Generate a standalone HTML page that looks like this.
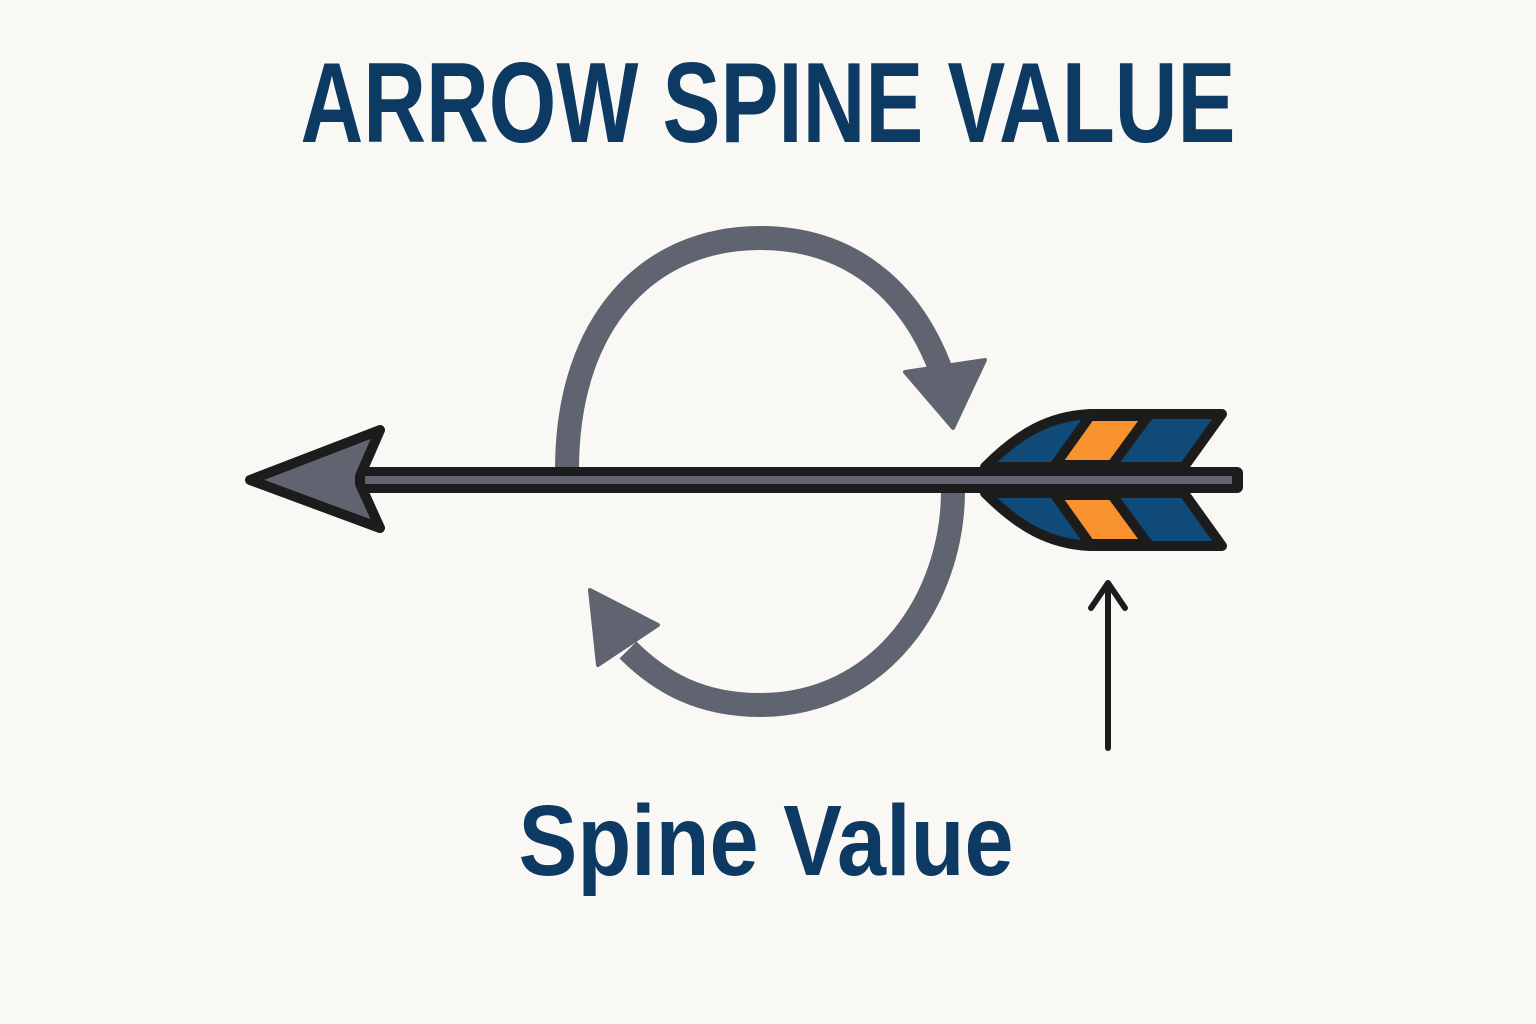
<!DOCTYPE html>
<html><head><meta charset="utf-8"><style>html,body{margin:0;padding:0;background:#faf8f4}svg{display:block}</style></head>
<body>
<svg width="1536" height="1024" viewBox="0 0 1536 1024" xmlns="http://www.w3.org/2000/svg">
<rect width="1536" height="1024" fill="#faf8f4"/>
<text x="768" y="142" text-anchor="middle" font-family="Liberation Sans, sans-serif" font-weight="bold" font-size="114" fill="#0d3a62" textLength="935" lengthAdjust="spacingAndGlyphs">ARROW SPINE VALUE</text>
<text x="766" y="875" text-anchor="middle" font-family="Liberation Sans, sans-serif" font-weight="bold" font-size="100" fill="#0d3a62" textLength="495" lengthAdjust="spacingAndGlyphs">Spine Value</text>
<!-- loop -->
<g fill="none" stroke="#5f6470" stroke-width="24">
<path d="M567,470 C567,320 650,238 760,238 C850,238 910,290 940,368"/>
<path d="M953,490 C953,600 880,705 760,705 C700,705 660,682 628,650"/>
</g>
<polygon points="905,372 985,360 953,428" fill="#5f6470" stroke="#5f6470" stroke-width="4" stroke-linejoin="round"/>
<polygon points="590,590 658,625 598,665" fill="#5f6470" stroke="#5f6470" stroke-width="4" stroke-linejoin="round"/>
<!-- shaft -->
<rect x="350" y="467" width="893" height="26" rx="6" fill="#1c1c1c"/>
<rect x="350" y="476" width="882" height="8" fill="#5f6470"/>
<!-- head -->
<polygon points="250,480 380,430 360,476 360,484 380,528" fill="#5f6470" stroke="#1c1c1c" stroke-width="10" stroke-linejoin="round"/>
<!-- fletching -->
<g stroke="#1c1c1c" stroke-width="10" stroke-linejoin="round">
<path d="M985,467 C1020,432 1050,416 1090,414 L1222,414 L1184,467 Z" fill="#0f4a78"/>
<path d="M985,493 C1020,528 1050,544 1090,546 L1222,546 L1184,493 Z" fill="#0f4a78"/>
<polygon points="1090,416 1148,416 1112,465 1055,465" fill="#f7922f"/>
<polygon points="1055,495 1112,495 1148,544 1090,544" fill="#f7922f"/>
</g>
<!-- small pointer -->
<line x1="1108" y1="748" x2="1108" y2="586" stroke="#1c1c1c" stroke-width="6" stroke-linecap="round"/>
<polyline points="1091,608 1108,583 1125,608" fill="none" stroke="#1c1c1c" stroke-width="6" stroke-linecap="round" stroke-linejoin="round"/>
</svg>
</body></html>
